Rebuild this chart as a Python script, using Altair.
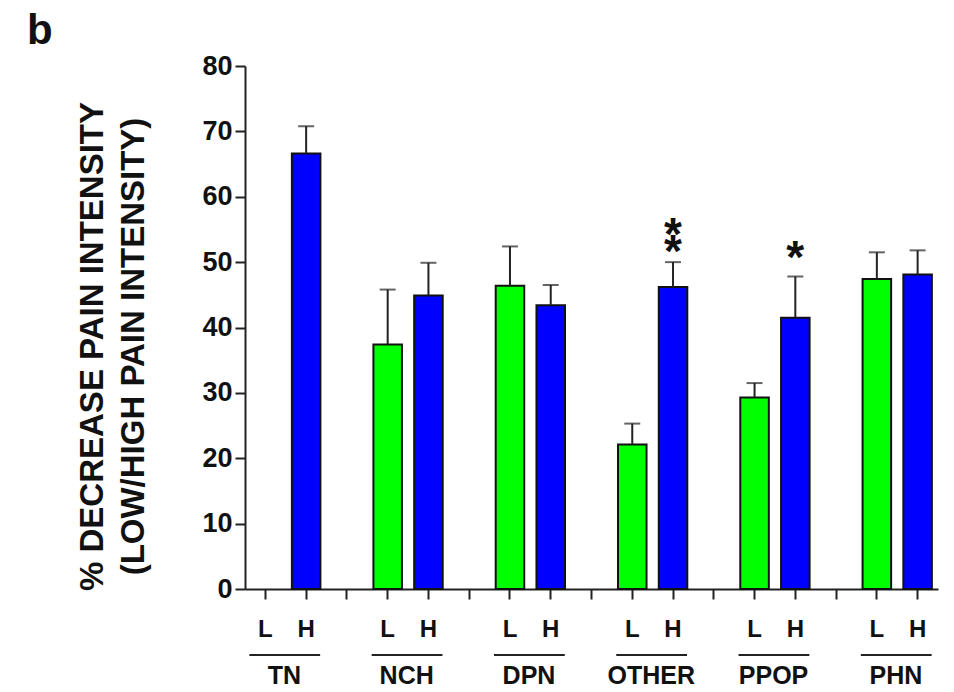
import altair as alt
import pandas as pd

# ---- data ----
groups = ["TN", "NCH", "DPN", "OTHER", "PPOP", "PHN"]
low_mean = [None, 37.4, 46.4, 22.1, 29.3, 47.4]
low_err_top = [None, 45.8, 52.4, 25.3, 31.5, 51.5]
high_mean = [66.6, 44.9, 43.4, 46.2, 41.5, 48.1]
high_err_top = [70.8, 49.9, 46.5, 50.0, 47.8, 51.8]
# significance marks: group, text (stacked stars), y value of the first star's baseline
star_groups = ["OTHER", "PPOP"]
star_text = ["*\n*", "*"]
star_y = [51.8, 48.3]
y_ticks = [0, 10, 20, 30, 40, 50, 60, 70, 80]

FONT = "Liberation Sans, Arial, sans-serif"

# slots: L, H, gap for every group (no gap after last)
slots = []
for i, g in enumerate(groups):
    slots += [f"{g} L", f"{g} H"]
    if i < len(groups) - 1:
        slots.append(f"{g} gap")

rows = []
for g, lm, le, hm, he in zip(groups, low_mean, low_err_top, high_mean, high_err_top):
    if lm is not None:
        rows.append({"slot": f"{g} L", "cond": "L", "mean": lm, "top": le})
    rows.append({"slot": f"{g} H", "cond": "H", "mean": hm, "top": he})
df = pd.DataFrame(rows)

lab_rows = []
for g in groups:
    lab_rows.append({"slot": f"{g} L", "txt": "L", "group": g})
    lab_rows.append({"slot": f"{g} H", "txt": "H", "group": g})
lab_df = pd.DataFrame(lab_rows)
grp_df = pd.DataFrame({"L": [f"{g} L" for g in groups], "H": [f"{g} H" for g in groups], "group": groups})
star_df = pd.DataFrame({"slot": [f"{g} H" for g in star_groups], "txt": star_text, "y": star_y})

W, H = 693, 523
xscale = alt.Scale(domain=slots, paddingInner=0, paddingOuter=0)
yscale = alt.Scale(domain=[0, 80], nice=False)

x_enc = alt.X("slot:N", scale=xscale, sort=slots,
              axis=alt.Axis(labels=False, title=None, ticks=True, tickSize=10,
                            tickColor="#222", tickWidth=2, domainColor="#222",
                            domainWidth=2, grid=False, orient="bottom"))

base = alt.Chart(df)

bars = base.mark_bar(width=alt.RelativeBandSize(0.7), stroke="#111", strokeWidth=2).encode(
    x=x_enc,
    y=alt.Y("mean:Q", scale=yscale,
            axis=alt.Axis(values=y_ticks, tickSize=10, tickColor="#222", tickWidth=2,
                          domainColor="#222", domainWidth=2, grid=False,
                          labelFont=FONT, labelFontSize=27, labelFontWeight="bold",
                          labelColor="#111", labelPadding=3,
                          title=["% DECREASE PAIN INTENSITY", "(LOW/HIGH PAIN INTENSITY)"],
                          titleFont=FONT, titleFontSize=33, titleFontWeight="bold",
                          titleColor="#111", titleLineHeight=41, titleAngle=-90,
                          titleBaseline="alphabetic", titleAlign="center",
                          titleX=-143, titleY=280)),
    color=alt.Color("cond:N", scale=alt.Scale(domain=["L", "H"], range=["#00ff00", "#0000ff"]),
                    legend=None),
)

err = base.mark_rule(color="#222", strokeWidth=2).encode(
    x=alt.X("slot:N", scale=xscale, sort=slots),
    y=alt.Y("mean:Q", scale=yscale),
    y2="top:Q",
)
caps = base.mark_tick(color="#222", thickness=2, size=16, orient="horizontal").encode(
    x=alt.X("slot:N", scale=xscale, sort=slots),
    y=alt.Y("top:Q", scale=yscale),
)

stars = alt.Chart(star_df).mark_text(font=FONT, fontSize=46, fontWeight="bold",
                                     color="#111", baseline="alphabetic",
                                     lineBreak="\n", lineHeight=17).encode(
    x=alt.X("slot:N", scale=xscale, sort=slots),
    y=alt.Y("y:Q", scale=yscale),
    text="txt:N",
)

lh = alt.Chart(lab_df).mark_text(font=FONT, fontSize=24, fontWeight="bold",
                                 color="#111", baseline="alphabetic").encode(
    x=alt.X("slot:N", scale=xscale, sort=slots),
    y=alt.value(571),
    text="txt:N",
)

underline = alt.Chart(grp_df).mark_rule(color="#222", strokeWidth=2,
                                        xOffset=-16, x2Offset=14).encode(
    x=alt.X("L:N", scale=xscale, sort=slots),
    x2="H:N",
    y=alt.value(589),
)

gnames = alt.Chart(grp_df).mark_text(font=FONT, fontSize=25, fontWeight="bold",
                                     color="#111", baseline="alphabetic", dx=19).encode(
    x=alt.X("L:N", scale=xscale, sort=slots),
    y=alt.value(618),
    text="group:N",
)

panel = alt.Chart(pd.DataFrame({"t": ["b"]})).mark_text(
    font=FONT, fontSize=42, fontWeight="bold", color="#111",
    align="left", baseline="alphabetic").encode(
    x=alt.value(-218), y=alt.value(-22), text="t:N")

chart = alt.layer(bars, err, caps, stars, lh, underline, gnames, panel).properties(
    width=W, height=H,
    autosize="none",
    background="white",
    padding={"left": 237, "top": 58, "right": 6, "bottom": 102},
).configure_view(stroke=None)

chart.save("out.html", embed_options={"renderer": "svg", "actions": False})
